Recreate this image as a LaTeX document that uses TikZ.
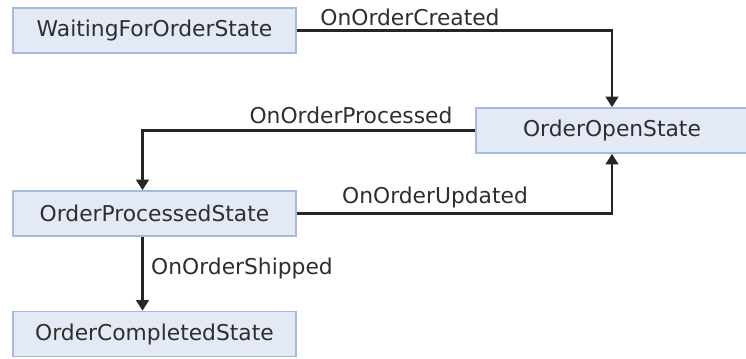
\documentclass[tikz,border=0pt]{standalone}
\usepackage{fontspec}
\setmainfont{DejaVu Sans}
\usetikzlibrary{arrows.meta,positioning}
\definecolor{sfill}{HTML}{E3EAF6}
\definecolor{sline}{HTML}{A6B9DE}
\definecolor{stext}{HTML}{2E2E2E}
\tikzset{
  state/.style={draw=sline,fill=sfill,line width=1.2pt,minimum width=7.075cm,minimum height=1.125cm,inner sep=0pt,font=\fontsize{15.5}{18}\selectfont,text=stext},
  arr/.style={-{Triangle[length=7.5pt,width=9pt]},line width=1.6pt,draw=black!85},
  lbl/.style={font=\fontsize{15.5}{18}\selectfont,text=stext,inner sep=0pt},
}
\begin{document}
\begin{tikzpicture}[x=0.025cm,y=-0.025cm]
  \useasboundingbox (0,0) rectangle (746,358);
  \node[state] (wait) at (154.5,30.5) {WaitingForOrderState};
  \node[state,minimum width=6.8cm] (open) at (612,130.5) {OrderOpenState};
  \node[state] (proc) at (154.5,213.5) {OrderProcessedState};
  \node[state] (done) at (154.5,334) {OrderCompletedState};
  % transitions
  \draw[arr] (wait.east) -| (open.north);
  \draw[arr] (open.west) -| ([xshift=-0.3cm]proc.north);
  \draw[arr] (proc.east) -| (open.south);
  \draw[arr] ([xshift=-0.3cm]proc.south) -- ([xshift=-0.3cm]done.north);
  \node[lbl] (created) at (410,17) {OnOrderCreated};
  \node[lbl] (processed) at (351,115) {OnOrderProcessed};
  \node[lbl] (updated) at (435,197) {OnOrderUpdated};
  \node[lbl] (shipped) at (242,268) {OnOrderShipped};
\end{tikzpicture}
\end{document}
